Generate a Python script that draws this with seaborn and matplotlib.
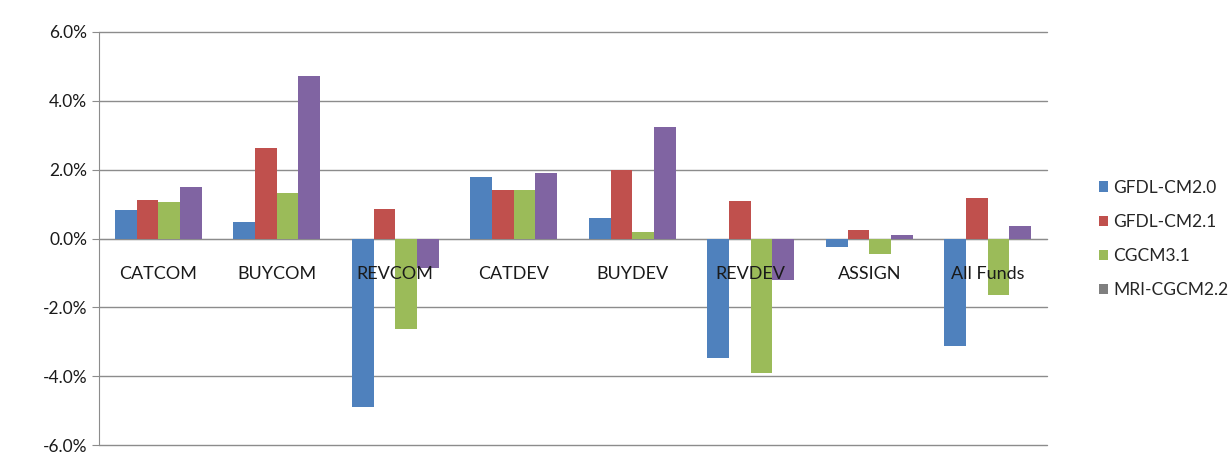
import numpy as np
import pandas as pd
import seaborn as sns
import matplotlib.pyplot as plt
from matplotlib.patches import Patch
from matplotlib.ticker import FuncFormatter, FixedLocator

# --- data (percent) ---
categories = ["CATCOM", "BUYCOM", "REVCOM", "CATDEV", "BUYDEV", "REVDEV", "ASSIGN", "All Funds"]
models = ["GFDL-CM2.0", "GFDL-CM2.1", "CGCM3.1", "MRI-CGCM2.2"]

gfdl_cm20 = [0.82, 0.48, -4.89, 1.79, 0.59, -3.48, -0.26, -3.13]
gfdl_cm21 = [1.11, 2.64, 0.85, 1.42, 1.98, 1.09, 0.24, 1.19]
cgcm31 = [1.06, 1.33, -2.64, 1.42, 0.18, -3.92, -0.44, -1.65]
mri_cgcm22 = [1.50, 4.72, -0.87, 1.90, 3.24, -1.21, 0.09, 0.36]

colors = ["#4F81BD", "#C0504D", "#9BBB59", "#8064A2"]
legend_colors = ["#4F81BD", "#C0504D", "#9BBB59", "#7F7F7F"]

df = pd.DataFrame({
    "category": categories * 4,
    "model": [m for m in models for _ in categories],
    "value": gfdl_cm20 + gfdl_cm21 + cgcm31 + mri_cgcm22,
})

sns.set_style("white")
plt.rcParams["font.family"] = ["Lato", "DejaVu Sans"]

fig = plt.figure(figsize=(12.3, 4.63), dpi=100)
ax = fig.add_axes([99 / 1230, 1 - 445 / 463, (1047 - 99) / 1230, (445 - 32) / 463])

sns.barplot(data=df, x="category", y="value", hue="model", order=categories,
            hue_order=models, palette=colors, width=0.73, saturation=1,
            edgecolor="none", linewidth=0, ax=ax, legend=False)

ax.set_ylim(-6.0, 6.0)
ax.set_xlim(-0.5, len(categories) - 0.5)
ax.set_yticks(np.arange(-6, 6.1, 2))
ax.yaxis.set_major_formatter(FuncFormatter(lambda v, p: f"{v:.1f}%"))

# gridlines drawn under the bars, axis (labels) drawn on top like Excel
for v in np.arange(-6, 6.1, 2):
    ax.axhline(v, color="#8C8C8C", linewidth=1.0, zorder=0, clip_on=False)
ax.set_axisbelow(False)

for s in ["top", "right"]:
    ax.spines[s].set_visible(False)
ax.spines["bottom"].set_position(("data", 0))
ax.spines["bottom"].set_color("#8C8C8C")
ax.spines["bottom"].set_zorder(0.5)
ax.spines["left"].set_color("#8C8C8C")

ax.tick_params(axis="x", which="major", length=0, pad=20, labelsize=13, labelcolor="#1a1a1a")
ax.xaxis.set_minor_locator(FixedLocator(np.arange(0.5, len(categories) - 0.5, 1)))
ax.tick_params(axis="x", which="minor", length=5, color="#8C8C8C", direction="out")
ax.tick_params(axis="y", length=5, color="#8C8C8C", direction="out", labelsize=12.5,
               labelcolor="#1a1a1a", left=True)
ax.set_xlabel("")
ax.set_ylabel("")

handles = [Patch(facecolor=c, edgecolor="none") for c in legend_colors]
fig.legend(handles, models, loc="center left", bbox_to_anchor=(1090 / 1230, 1 - 239 / 463),
           frameon=False, fontsize=12.5, handlelength=0.55, handleheight=0.55,
           handletextpad=0.3, labelspacing=1.05, borderpad=0)

fig.savefig("out.png", dpi=100)
